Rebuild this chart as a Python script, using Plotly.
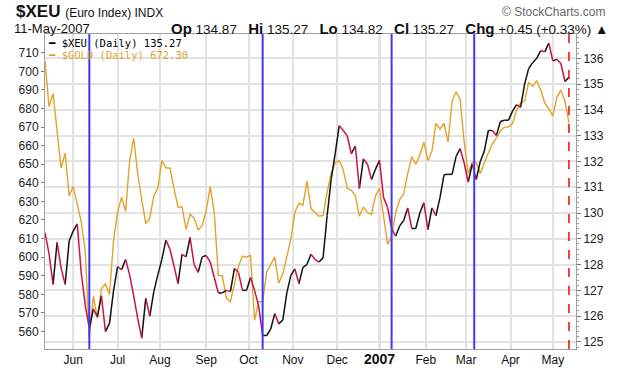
import numpy as np
import pandas as pd
import plotly.graph_objects as go

# ---------------- data ----------------
start_date = "2006-05-12"
end_date = "2007-05-11"
sample_step = 2  # values read every 2nd trading day

xeu_close = [
    129.24, 128.42, 127.23, 128.86, 127.86, 127.23, 128.92, 129.30, 129.58, 127.67,
    126.41, 125.53, 126.28, 125.97, 126.79, 125.40, 125.72, 126.98, 127.92, 127.80,
    128.20, 127.60, 126.79, 125.91, 125.15, 126.70, 126.00, 126.95, 127.60, 128.20,
    128.95, 128.60, 127.95, 127.26, 128.40, 128.30, 129.05, 128.00, 127.70, 128.30,
    128.35, 128.10, 127.50, 126.90, 126.90, 127.00, 126.95, 127.85, 127.70, 127.00,
    127.00, 127.50, 127.00, 126.40, 125.25, 125.25, 125.50, 126.10, 125.70, 125.85,
    126.90, 127.58, 127.83, 127.26, 127.89, 128.00, 128.40, 128.20, 128.10, 128.27,
    129.90, 131.30, 132.30, 133.39, 133.20, 132.99, 132.30, 132.60, 130.95, 132.10,
    131.90, 131.30, 131.70, 132.04, 130.60, 130.22, 129.40, 129.10, 129.50, 129.71,
    130.20, 129.40, 129.40, 130.00, 130.40, 129.36, 130.20, 129.90, 130.60, 131.48,
    131.50, 131.50, 132.20, 132.50, 131.94, 131.20, 131.90, 131.30, 132.00, 132.40,
    133.20, 133.20, 133.01, 133.55, 133.60, 133.60, 133.95, 134.20, 134.10, 135.00,
    135.60, 135.83, 136.00, 136.30, 136.25, 136.59, 135.90, 135.96, 135.80, 135.10,
    135.27,
]

gold_close = [
    705.5, 681.0, 688.0, 667.0, 648.0, 656.0, 633.0, 638.0, 628.0, 619.0,
    603.0, 556.5, 579.0, 567.0, 583.0, 585.6, 580.0, 608.8, 624.0, 632.3,
    624.5, 652.0, 664.0, 645.0, 631.0, 618.0, 621.0, 633.0, 637.3, 652.0,
    648.0, 648.0, 637.0, 627.0, 627.0, 615.0, 623.0, 621.0, 614.6, 617.0,
    625.0, 638.0, 624.0, 590.2, 590.0, 578.0, 576.0, 586.0, 595.0, 600.6,
    600.0, 601.0, 566.0, 576.0, 576.0, 592.0, 596.0, 600.0, 586.0, 591.0,
    600.0, 610.0, 624.0, 629.0, 628.0, 641.0, 626.0, 624.0, 622.0, 622.5,
    635.0, 645.0, 651.0, 652.0, 647.0, 637.0, 636.0, 633.0, 622.0, 627.0,
    624.0, 623.0, 633.0, 637.0, 622.0, 607.0, 611.0, 624.0, 631.0, 634.0,
    645.0, 654.0, 650.0, 655.0, 662.0, 652.0, 657.0, 672.0, 669.0, 672.0,
    662.0, 684.0, 689.0, 685.0, 662.0, 645.0, 651.0, 651.0, 645.0, 651.0,
    656.0, 661.0, 664.0, 668.0, 670.0, 670.0, 672.0, 679.0, 683.0, 684.0,
    694.0, 692.0, 695.0, 690.0, 683.0, 680.0, 676.0, 686.0, 690.0, 684.0,
    672.3,
]

month_starts = ["2006-06-01", "2006-07-01", "2006-08-01", "2006-09-01", "2006-10-01",
                "2006-11-01", "2006-12-01", "2007-01-01", "2007-02-01", "2007-03-01",
                "2007-04-01", "2007-05-01"]
month_labels = ["Jun", "Jul", "Aug", "Sep", "Oct", "Nov", "Dec",
                "<b><span style='font-size:14px'>2007</span></b>",
                "Feb", "Mar", "Apr", "May"]
year_start = "2007-01-01"
marker_dates = ["2006-06-13", "2006-10-11", "2007-01-09", "2007-03-07"]

gold_ticks = [560, 570, 580, 590, 600, 610, 620, 630, 640, 650, 660, 670, 680, 690, 700, 710]
xeu_ticks = [125, 126, 127, 128, 129, 130, 131, 132, 133, 134, 135, 136]

quote_date = "11-May-2007"
quote_open, quote_high, quote_low, quote_close = 134.87, 135.27, 134.82, 135.27
quote_chg, quote_chg_pct = 0.45, 0.33

# ---------------- scales ----------------
days = pd.bdate_range(start_date, end_date)
pos = np.arange(len(days))[::sample_step]
assert len(pos) == len(xeu_close) == len(gold_close)


def day_pos(d):
    return int(days.searchsorted(pd.Timestamp(d)))


month_pos = [day_pos(d) for d in month_starts]

# ---------------- layout constants ----------------
W, H = 620, 379
L, R, T, B = 45, 44, 34, 21
PW, PH = W - L - R, H - T - B


def px(xp):
    return (xp - L) / PW


def py(yp):
    return (H - B - yp) / PH


GOLD = "#E3A22C"
UP = "#111111"
DOWN = "#CC1144"
GRID = "#E2E2E2"
FONT = "Liberation Sans"
MONO = "DejaVu Sans Mono"

fig = go.Figure()

# gold line (left axis)
fig.add_trace(go.Scatter(x=pos, y=gold_close, mode="lines", yaxis="y",
                         line=dict(color=GOLD, width=1.4), hoverinfo="skip",
                         showlegend=False))

# XEU line, coloured by direction (right axis)
ux, uy, dx, dy = [], [], [], []
for i in range(1, len(pos)):
    seg_x = [pos[i - 1], pos[i], None]
    seg_y = [xeu_close[i - 1], xeu_close[i], None]
    if xeu_close[i] >= xeu_close[i - 1]:
        ux += seg_x
        uy += seg_y
    else:
        dx += seg_x
        dy += seg_y
fig.add_trace(go.Scatter(x=ux, y=uy, mode="lines", yaxis="y2",
                         line=dict(color=UP, width=1.5), hoverinfo="skip",
                         showlegend=False, connectgaps=False))
fig.add_trace(go.Scatter(x=dx, y=dy, mode="lines", yaxis="y2",
                         line=dict(color=DOWN, width=1.5), hoverinfo="skip",
                         showlegend=False, connectgaps=False))

shapes = []
# darker year gridline
shapes.append(dict(type="line", xref="x", yref="paper", x0=day_pos(year_start),
                   x1=day_pos(year_start), y0=0, y1=1, layer="below",
                   line=dict(color="#C4C4C4", width=2)))
# blue marker lines
for d in marker_dates:
    p = day_pos(d)
    shapes.append(dict(type="line", xref="x", yref="paper", x0=p, x1=p, y0=0, y1=1,
                       layer="above", line=dict(color="#3A3AFF", width=2)))
# red dashed last-date line
shapes.append(dict(type="line", xref="x", yref="paper", x0=pos[-1], x1=pos[-1], y0=0,
                   y1=1, layer="above", line=dict(color="#FF0000", width=1.5, dash="dash")))

annotations = []
annotations.append(dict(xref="paper", yref="paper", x=px(14), y=py(11), xanchor="left",
                        yanchor="middle", showarrow=False,
                        text="<b>$XEU</b> <span style='font-size:12px'>(Euro Index) INDX</span>",
                        font=dict(family=FONT, size=17, color="#111")))
annotations.append(dict(xref="paper", yref="paper", x=px(608), y=py(11), xanchor="right",
                        yanchor="middle", showarrow=False, text="© StockCharts.com",
                        font=dict(family=FONT, size=12, color="#666")))
annotations.append(dict(xref="paper", yref="paper", x=px(12), y=py(28), xanchor="left",
                        yanchor="middle", showarrow=False, text=quote_date,
                        font=dict(family=FONT, size=13, color="#111")))
sp = "\u00a0\u00a0\u00a0"
lab = "<b><span style='font-size:15px'>{}</span></b>"
quote_text = (f"{lab.format('Op')} {quote_open:.2f}{sp}{lab.format('Hi')} {quote_high:.2f}{sp}"
              f"{lab.format('Lo')} {quote_low:.2f}{sp}{lab.format('Cl')} {quote_close:.2f}{sp}"
              f"{lab.format('Chg')} +{quote_chg:.2f} (+{quote_chg_pct:.2f}%) ▲")
annotations.append(dict(xref="paper", yref="paper", x=px(610), y=py(28), xanchor="right",
                        yanchor="middle", showarrow=False, text=quote_text,
                        font=dict(family=FONT, size=13.5, color="#111")))
# legend
annotations.append(dict(xref="paper", yref="paper", x=px(46), y=py(43.5), xanchor="left",
                        yanchor="middle", showarrow=False,
                        text=f"━ $XEU (Daily) {xeu_close[-1]:.2f}",
                        font=dict(family=MONO, size=10.5, color="#000")))
annotations.append(dict(xref="paper", yref="paper", x=px(46), y=py(55.5), xanchor="left",
                        yanchor="middle", showarrow=False,
                        text=f"━ $GOLD (Daily) {gold_close[-1]:.2f}",
                        font=dict(family=MONO, size=10.5, color=GOLD)))

fig.update_layout(
    width=W, height=H, autosize=False,
    margin=dict(l=L, r=R, t=T, b=B, pad=0),
    paper_bgcolor="white", plot_bgcolor="white",
    showlegend=False,
    xaxis=dict(range=[0, 263.5], tickmode="array", tickvals=month_pos, ticktext=month_labels,
               showgrid=True, gridcolor=GRID, gridwidth=2, zeroline=False,
               ticks="", showline=True, linecolor="#A0A0A0", linewidth=1, mirror=True,
               tickfont=dict(family=FONT, size=12, color="#111")),
    yaxis=dict(range=[550.56, 720.1], tickmode="array", tickvals=gold_ticks,
               showgrid=False, zeroline=False, ticks="outside", ticklen=3,
               tickcolor="#777", showline=True, linecolor="#A0A0A0", linewidth=1,
               tickfont=dict(family=FONT, size=12, color="#222")),
    yaxis2=dict(range=[124.726, 136.943], tickmode="array", tickvals=xeu_ticks,
                overlaying="y", side="right", showgrid=True, gridcolor=GRID, gridwidth=2,
                zeroline=False, ticks="outside", ticklen=4, tickcolor="#777",
                minor=dict(ticks="outside", ticklen=2, dtick=0.2, tickcolor="#999",
                           showgrid=False),
                showline=True, linecolor="#A0A0A0", linewidth=1,
                tickfont=dict(family=FONT, size=12, color="#222")),
    shapes=shapes,
    annotations=annotations,
)

fig.write_html("out.html", config={"displayModeBar": False},
               post_script="document.body.style.margin='0';document.body.style.padding='0';")
